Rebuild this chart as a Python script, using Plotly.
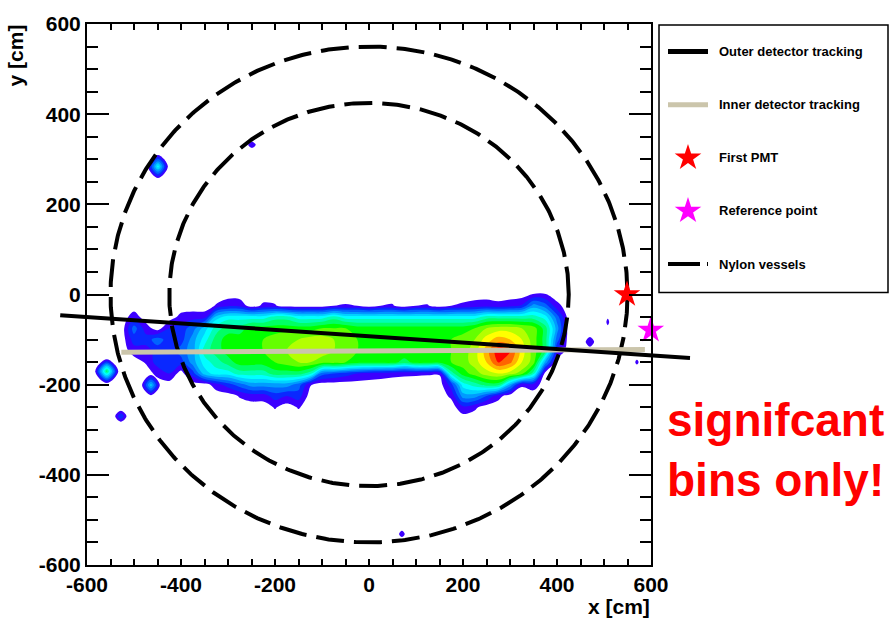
import numpy as np
import plotly.graph_objects as go

# ---------------- figure geometry (pixels) ----------------
FIG_W, FIG_H = 891, 619
PLOT_L, PLOT_R, PLOT_T, PLOT_B = 87, 651, 15, 565
X_RANGE = [-600, 600]
Y_RANGE = [-600, 600]

FONT = "Liberation Sans"

# ---------------- contour palette (level 0 = empty) ----------------
LEVEL_COLORS = [
    "rgba(255,255,255,0)",
    "#3c00ff", "#0a28ff", "#0064ff", "#009bff", "#00d2ff",
    "#00ffff", "#00ffb4", "#00ff64", "#00ff00", "#64ff00",
    "#b4ff00", "#ffff00", "#ffb400", "#ff6400", "#ff0000",
]
N_LEVELS = len(LEVEL_COLORS) - 1

# ---------------- main event band (significant bins) ----------------
BAND_X = list(range(-575, 451, 25))                 # cm
BAND_Y = [25, 0, -25, -50, -75, -100, -125, -150, -175, -200, -225, -250, -275]  # cm
# one column of bin contents per x value, ordered like BAND_Y
BAND_COLUMNS = [
    [0, 0, 0, 0, 0, 0, 0, 0, 0, 0, 0, 0, 0],                  # -575
    [0, 0, 0, 0, 0, 0, 0, 0, 0, 0, 0, 0, 0],                  # -550
    [0, 0, 0, 0, 0, 0, 0, 0, 0, 0, 0, 0, 0],                  # -525
    [0, 0, 0, 1, 3, 2, 1, 0, 0, 0, 0, 0, 0],                  # -500
    [0, 0, 0, 0, 1, 2, 1, 0.6, 0, 0, 0, 0, 0],                # -475
    [0, 0, 0, 0, 0, 3, 2, 2, 0.8, 0, 0, 0, 0],                # -450
    [0, 0, 0, 0, 1.5, 2, 2, 2, 1.5, 0, 0, 0, 0],              # -425
    [0, 0, 0, 0.8, 2, 2, 3, 2, 0, 0, 0, 0, 0],                # -400
    [0, 0, 0, 1, 3, 4, 4, 4, 2, 0, 0, 0, 0],                  # -375
    [0, 0, 0, 1, 5, 6, 7, 6, 5, 0, 0, 0, 0],                  # -350
    [0, 0, 0.6, 5, 7, 8, 8, 7, 6, 1, 0, 0, 0],                # -325
    [0, 0, 1.3, 6, 8, 9, 9, 8, 6, 2, 0, 0, 0],                # -300
    [0, 0, 1.2, 6, 8, 9, 9, 9, 7, 3, 0.6, 0, 0],              # -275
    [0, 0, 0, 6, 9, 9, 9.5, 9, 7, 4, 1, 0, 0],                # -250
    [0, 0, 0.7, 6, 9, 9.5, 9.5, 9, 7, 4, 1, 0, 0],            # -225
    [0, 0, 0.6, 7, 9, 10, 10, 9.5, 8, 4, 2, 0.6, 0],          # -200
    [0, 0, 0, 7, 9, 10.5, 10.5, 10, 8, 4, 1.5, 0, 0],         # -175
    [0, 0, 0, 6, 9, 10.5, 11, 10.5, 8, 3, 2, 0.6, 0],         # -150
    [0, 0, 0, 6, 9, 11, 11, 10.5, 7, 0.6, 0, 0, 0],           # -125
    [0, 0, 0, 6, 9.5, 11, 11, 10, 3, 0, 0, 0, 0],             # -100
    [0, 0, 0.5, 7, 9.5, 10.5, 10.5, 10, 2.5, 0, 0, 0, 0],     # -75
    [0, 0, 0.6, 6, 9.5, 10, 10, 9.5, 2, 0, 0, 0, 0],          # -50
    [0, 0, 0.5, 6, 9, 9.5, 9.5, 9, 1.5, 0, 0, 0, 0],          # -25
    [0, 0, 0, 6, 9, 9.5, 9.5, 9, 1.2, 0, 0, 0, 0],            # 0
    [0, 0, 0.5, 6, 9, 9.5, 9.5, 9, 1, 0, 0, 0, 0],            # 25
    [0, 0, 0.6, 6, 9, 9.5, 9.5, 9, 0.8, 0, 0, 0, 0],          # 50
    [0, 0, 0, 6, 9, 9.5, 9.5, 8, 0.7, 0, 0, 0, 0],            # 75
    [0, 0, 0.5, 6, 9, 9.5, 9.5, 9, 0.65, 0, 0, 0, 0],         # 100
    [0, 0, 0.57, 6, 9, 9.5, 9.5, 9, 0.6, 0, 0, 0, 0],         # 125
    [0, 0, 0, 6, 9, 9.5, 9.5, 9, 0.6, 0, 0, 0, 0],            # 150
    [0, 0, 0.5, 6, 9, 9.5, 9.5, 9.5, 7, 2, 0.7, 0, 0],        # 175
    [0, 0, 0.7, 6, 9, 10, 10, 10, 9, 6, 4, 1.25, 0],          # 200
    [0, 0, 1, 6, 9.5, 10.5, 11, 11, 10, 7, 4, 0.7, 0],        # 225
    [0, 0, 1.1, 7, 10.5, 12, 13, 12.5, 11, 8, 2.5, 0, 0],     # 250
    [0, 0, 0.83, 7, 11, 13, 15.2, 14.6, 11.5, 8, 0.83, 0, 0], # 275
    [0, 0, 1.1, 7, 11, 12.5, 14.6, 13.8, 11, 4.2, 0, 0, 0],   # 300
    [0, 0, 1.6, 7, 10.5, 11.5, 12, 11.5, 10, 0.63, 0, 0, 0],  # 325
    [0, 0.55, 4, 7, 10, 10, 10, 10, 7, 1, 0, 0, 0],           # 350
    [0, 0.55, 3, 6, 8, 8, 8, 4.2, 0, 0, 0, 0, 0],             # 375
    [0, 0, 0.8, 3, 4, 3, 1.5, 0, 0, 0, 0, 0, 0],              # 400
    [0, 0, 0, 0, 0, 0, 0, 0, 0, 0, 0, 0, 0],                  # 425
    [0, 0, 0, 0, 0, 0, 0, 0, 0, 0, 0, 0, 0],                  # 450
]

# ---------------- isolated significant clusters ----------------
BLOB_X = [-449, -249, -558, -464, -528, 70, 470, 508, 570]      # cm
BLOB_Y = [284, 332, -170, -201, -270, -531, -105, -61, -150]    # cm
BLOB_HALF_W = [23, 16, 26, 21, 15, 12, 13, 6, 7]                # cm
BLOB_HALF_H = [28, 14, 28, 25, 15, 14, 16, 14, 10]              # cm
BLOB_PEAK = [6, 1, 8, 5, 2.5, 1, 1.6, 1, 1]

# ---------------- geometry overlays ----------------
NYLON_RADII = [550, 425]                         # cm, vessel radii
OUTER_TRACK_X = [-657, 683]
OUTER_TRACK_Y = [-46, -141]
INNER_TRACK_X = [-527, 587]
INNER_TRACK_Y = [-128, -122]
PMT_POS = (549, 0)
REF_POS = (599.5, -79)

INNER_TRACK_COLOR = "#cbc5ab"

LEGEND_LABELS = ["Outer detector tracking", "Inner detector tracking",
                 "First PMT", "Reference point", "Nylon vessels"]

AXIS_TICKS = [-600, -400, -200, 0, 200, 400, 600]
AXIS_TICK_TEXT = ["-600", "-400", "-200", "0", "200", "400", "600"]


# ---------------- helpers ----------------
def paper_x_from_px(p):
    return (p - PLOT_L) / (PLOT_R - PLOT_L)


def paper_y_from_px(p):
    return (PLOT_B - p) / (PLOT_B - PLOT_T)


def paper_x_from_data(v):
    return (v - X_RANGE[0]) / (X_RANGE[1] - X_RANGE[0])


def paper_y_from_data(v):
    return (v - Y_RANGE[0]) / (Y_RANGE[1] - Y_RANGE[0])


colorscale = [[k / N_LEVELS, c] for k, c in enumerate(LEVEL_COLORS)]
contour_style = dict(
    contours=dict(coloring="fill", start=0.5, end=N_LEVELS - 0.5, size=1, showlines=False),
    autocontour=False,
    line=dict(width=0),
    colorscale=colorscale,
    zmin=0, zmax=N_LEVELS, zauto=False,
    showscale=False,
    hoverinfo="skip",
)

fig = go.Figure()

# band: transpose columns into rows, ascending y
band_z = np.array(BAND_COLUMNS, dtype=float).T
band_y = np.array(BAND_Y, dtype=float)
order = np.argsort(band_y)
fig.add_trace(go.Contour(x=BAND_X, y=band_y[order], z=band_z[order], **contour_style))

# isolated clusters, each on its own small 3x3 grid
for cx, cy, hw, hh, pk in zip(BLOB_X, BLOB_Y, BLOB_HALF_W, BLOB_HALF_H, BLOB_PEAK):
    z = [[0, 0, 0], [0, pk, 0], [0, 0, 0]]
    fig.add_trace(go.Contour(x=[cx - hw, cx, cx + hw], y=[cy - hh, cy, cy + hh], z=z,
                             **contour_style))

# nylon vessels (dashed circles)
theta = np.linspace(0, 2 * np.pi, 721)
for r in NYLON_RADII:
    fig.add_trace(go.Scatter(x=r * np.cos(theta), y=r * np.sin(theta), mode="lines",
                             line=dict(color="black", width=4, dash="28px,10px"),
                             hoverinfo="skip", showlegend=False))

# first PMT and reference point
fig.add_trace(go.Scatter(x=[PMT_POS[0], REF_POS[0]], y=[PMT_POS[1], REF_POS[1]],
                         mode="markers", cliponaxis=False,
                         marker=dict(symbol="star", size=20, color=["#ff0000", "#ff00ff"],
                                     line=dict(width=0)),
                         hoverinfo="skip", showlegend=False))

shapes = []
# tracking lines (they run past the frame, so they are placed in paper units)
shapes.append(dict(type="line", xref="paper", yref="paper", layer="above",
                   x0=paper_x_from_data(INNER_TRACK_X[0]), y0=paper_y_from_data(INNER_TRACK_Y[0]),
                   x1=paper_x_from_data(INNER_TRACK_X[1]), y1=paper_y_from_data(INNER_TRACK_Y[1]),
                   line=dict(color=INNER_TRACK_COLOR, width=5)))
shapes.append(dict(type="line", xref="paper", yref="paper", layer="above",
                   x0=paper_x_from_data(OUTER_TRACK_X[0]), y0=paper_y_from_data(OUTER_TRACK_Y[0]),
                   x1=paper_x_from_data(OUTER_TRACK_X[1]), y1=paper_y_from_data(OUTER_TRACK_Y[1]),
                   line=dict(color="black", width=4)))

# ---------------- legend box ----------------
LEG_L, LEG_R, LEG_T, LEG_B = 659, 888, 16, 288
shapes.append(dict(type="rect", xref="paper", yref="paper", layer="above",
                   x0=paper_x_from_px(LEG_L), x1=paper_x_from_px(LEG_R),
                   y0=paper_y_from_px(LEG_B), y1=paper_y_from_px(LEG_T),
                   line=dict(color="black", width=1.5), fillcolor="white"))

row_y = [43, 97, 151, 205, 259]
sym_x0, sym_x1, sym_cx, text_x = 668, 708, 688, 717


def hline(y, color, width, dash="solid"):
    return dict(type="line", xref="paper", yref="paper", layer="above",
                x0=paper_x_from_px(sym_x0), x1=paper_x_from_px(sym_x1),
                y0=paper_y_from_px(y), y1=paper_y_from_px(y),
                line=dict(color=color, width=width, dash=dash))


def star_path(cx, cy, size):
    rs = 0.7 * size
    pts = [(0.225, -0.309), (0.951, -0.309), (0.363, 0.118), (0.588, 0.809), (0, 0.382),
           (-0.588, 0.809), (-0.363, 0.118), (-0.951, -0.309), (-0.225, -0.309), (0, -1)]
    coords = [(paper_x_from_px(cx + px * rs), paper_y_from_px(cy + py * rs)) for px, py in pts]
    return "M " + " L ".join(f"{x:.5f},{y:.5f}" for x, y in coords) + " Z"


shapes.append(hline(row_y[0], "black", 5))
shapes.append(hline(row_y[1], INNER_TRACK_COLOR, 5))
for y, col in [(row_y[2], "#ff0000"), (row_y[3], "#ff00ff")]:
    shapes.append(dict(type="path", xref="paper", yref="paper", layer="above",
                       path=star_path(sym_cx, y, 20), fillcolor=col, line=dict(width=0)))
shapes.append(hline(row_y[4], "black", 4, dash="32px,7px"))

annotations = []
for y, label in zip(row_y, LEGEND_LABELS):
    annotations.append(dict(text=label, xref="paper", yref="paper", showarrow=False,
                            x=paper_x_from_px(text_x), y=paper_y_from_px(y),
                            xanchor="left", yanchor="middle",
                            font=dict(family=FONT, size=13, color="black", weight="bold")))

# axis titles
annotations.append(dict(text="x [cm]", xref="paper", yref="paper", showarrow=False,
                        x=paper_x_from_px(652), y=paper_y_from_px(607),
                        xanchor="right", yanchor="middle",
                        font=dict(family=FONT, size=21, color="black", weight="bold")))
annotations.append(dict(text="y [cm]", xref="paper", yref="paper", showarrow=False,
                        x=paper_x_from_px(15), y=paper_y_from_px(47), textangle=-90,
                        xanchor="center", yanchor="middle",
                        font=dict(family=FONT, size=21, color="black", weight="bold")))

# note on the right
annotations.append(dict(text="signifcant<br>bins only!", xref="paper", yref="paper",
                        showarrow=False, align="left",
                        x=paper_x_from_px(665), y=paper_y_from_px(448),
                        xanchor="left", yanchor="middle",
                        font=dict(family=FONT, size=46, color="#ff0000", weight="bold")))

tickfont = dict(family=FONT, size=21, color="black", weight="bold")
fig.update_layout(
    width=FIG_W, height=FIG_H,
    margin=dict(l=PLOT_L, r=FIG_W - PLOT_R, t=PLOT_T, b=FIG_H - PLOT_B, pad=0),
    paper_bgcolor="white", plot_bgcolor="white",
    showlegend=False,
    shapes=shapes,
    annotations=annotations,
    xaxis=dict(range=X_RANGE, tickvals=AXIS_TICKS, ticktext=AXIS_TICK_TEXT,
               ticks="inside", ticklen=6, tickwidth=1.5,
               tickcolor="black", showline=True, linecolor="black", linewidth=2,
               mirror="ticks", showgrid=False, zeroline=False, tickfont=tickfont,
               minor=dict(dtick=50, tick0=0, ticks="inside", ticklen=6, tickwidth=1.5,
                          tickcolor="black", showgrid=False)),
    yaxis=dict(range=Y_RANGE, tickvals=AXIS_TICKS, ticktext=AXIS_TICK_TEXT,
               ticks="inside", ticklen=22, tickwidth=1.5,
               tickcolor="black", showline=True, linecolor="black", linewidth=2,
               mirror="ticks", showgrid=False, zeroline=False, tickfont=tickfont,
               minor=dict(dtick=50, tick0=0, ticks="inside", ticklen=11, tickwidth=1.5,
                          tickcolor="black", showgrid=False)),
)

fig.write_html("out.html")
